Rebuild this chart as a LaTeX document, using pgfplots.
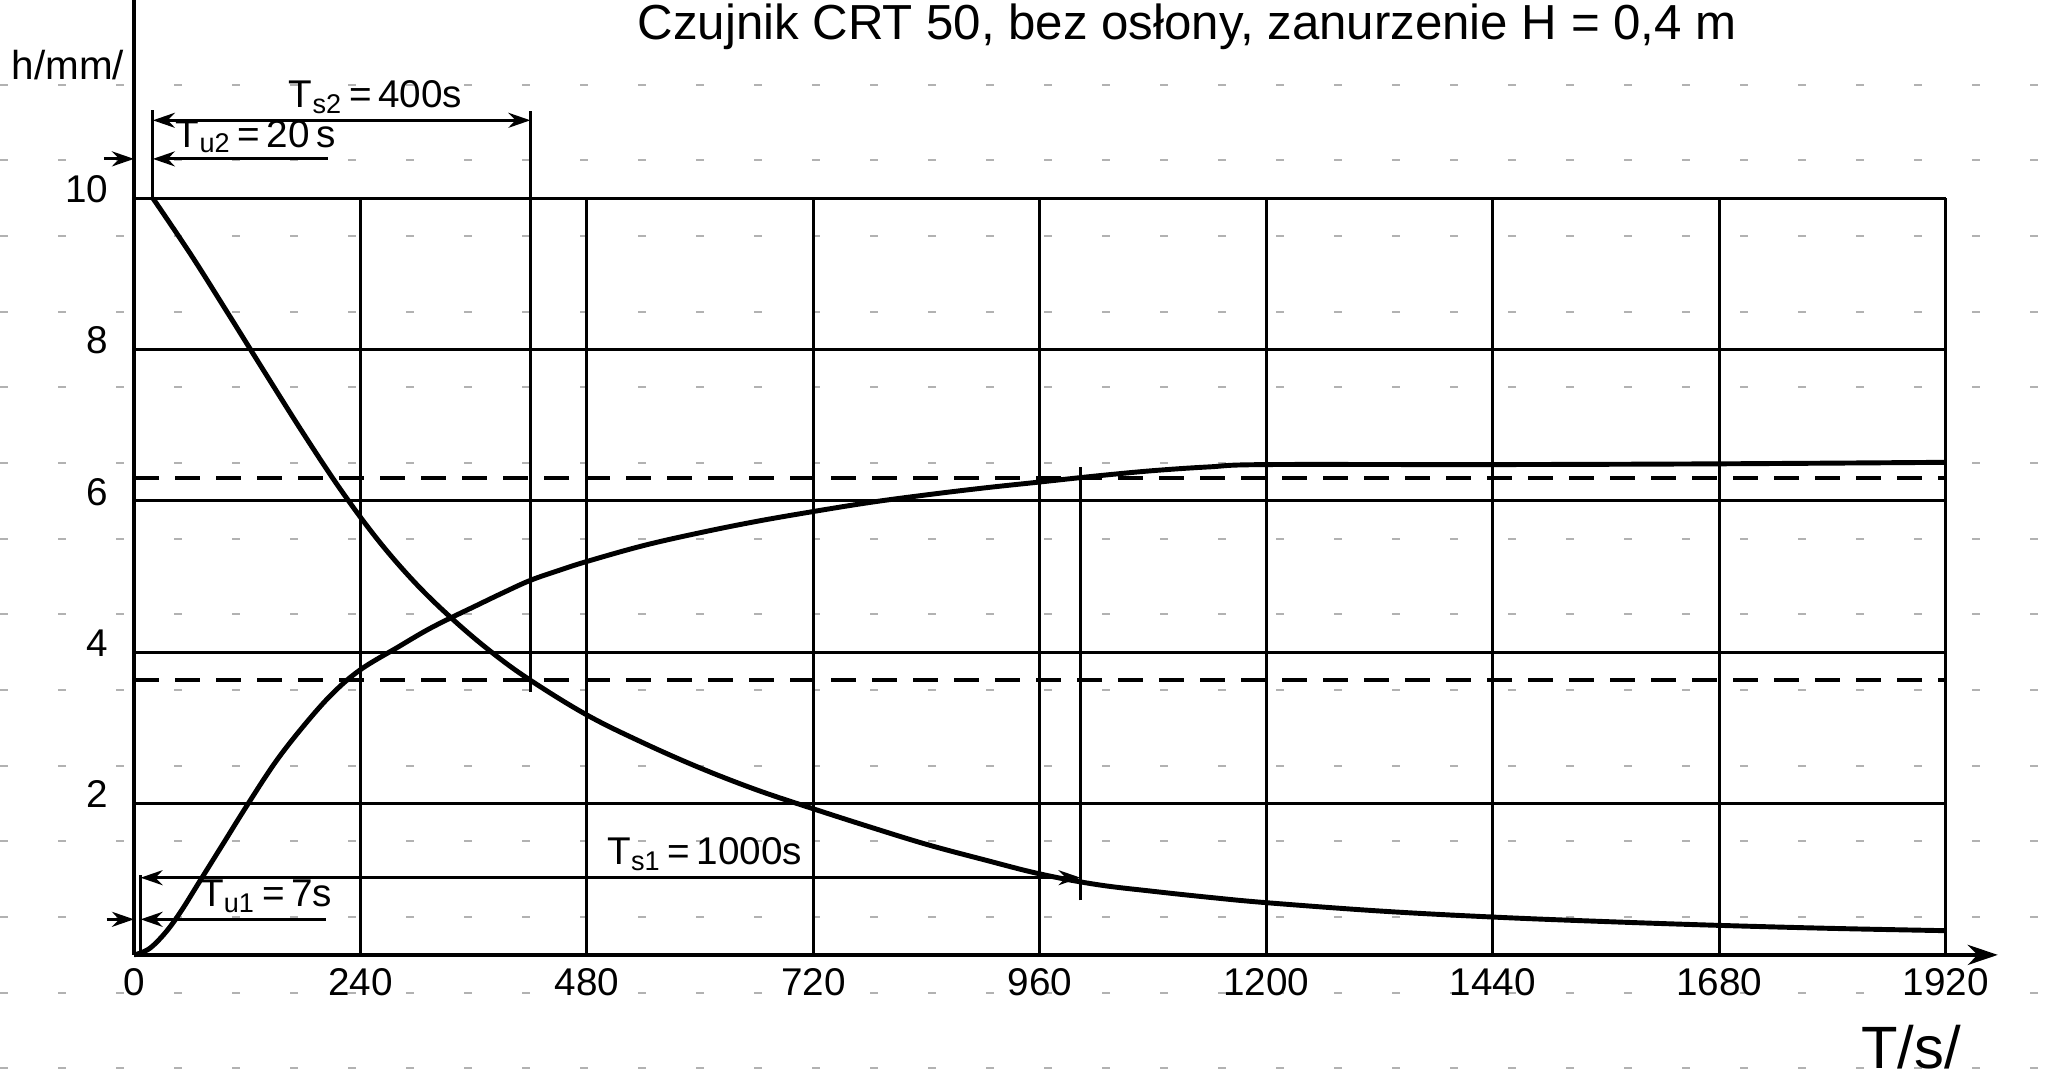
\documentclass[border=0pt]{standalone}
\usepackage{pgfplots}
\pgfplotsset{compat=1.18}
\usepackage{fontspec}
\setmainfont{Liberation Sans}
\usetikzlibrary{arrows.meta}
\begin{document}
\begin{tikzpicture}
\begin{axis}[width=20.45cm,height=10.82cm,scale only axis,
  xmin=-142,xmax=2025,ymin=-1.68,ymax=12.62,axis lines=none,clip=false]
% notebook paper lines
\pgfplotsinvokeforeach{-1.5,-0.5,0.5,1.5,2.5,3.5,4.5,5.5,6.5,7.5,8.5,9.5,10.5,11.5}{
  \draw[black!30, line width=0.6pt, dash pattern=on 0.8mm off 5mm] (axis cs:-142,#1) -- (axis cs:2025,#1);
}
% grid
\pgfplotsinvokeforeach{2,4,6,8,10}{
  \draw[line width=0.85pt] (axis cs:0,#1) -- (axis cs:1920,#1);
}
\pgfplotsinvokeforeach{240,480,720,960,1200,1440,1680,1920}{
  \draw[line width=0.85pt] (axis cs:#1,0) -- (axis cs:#1,10);
}
% axes
\draw[line width=1.3pt] (axis cs:0,12.62) -- (axis cs:0,0);
\draw[line width=1.3pt,-{Stealth[length=3mm,width=2mm]}] (axis cs:0,0) -- (axis cs:1975,0);
% tick labels
\pgfplotsinvokeforeach{0,240,480,720,960,1200,1440,1680,1920}{
  \node[font=\fontsize{11}{13}\selectfont] at (axis cs:#1,-0.36) {#1};
}
\pgfplotsinvokeforeach{2,4,6,8,10}{
  \node[anchor=east,font=\fontsize{11}{13}\selectfont] at (axis cs:-14,#1+0.12) {#1};
}
% axis labels
\node[font=\fontsize{11.5}{13}\selectfont] at (axis cs:-70,11.76) {h/mm/};
\node[font=\fontsize{17}{19}\selectfont] at (axis cs:1883,-1.22) {T/s/};
% title
\node[anchor=north,inner sep=0pt,font=\fontsize{14}{16}\selectfont] at (axis cs:1116,12.58) {Czujnik CRT 50, bez osłony, zanurzenie H = 0,4 m};

% dashed reference lines
\addplot[line width=1.1pt, dash pattern=on 2.5mm off 1.6mm] coordinates {(0,6.30) (1920,6.30)};
\addplot[line width=1.1pt, dash pattern=on 2.5mm off 1.6mm] coordinates {(0,3.63) (1920,3.63)};

% rising curve
\addplot[line width=1.4pt, smooth, tension=0.6] coordinates {
(0,0) (10,0.04) (20,0.12) (35,0.32) (50,0.58) (70,0.98) (95,1.48) (120,1.98) (150,2.55)
(180,3.03) (210,3.45) (240,3.77) (280,4.07) (310,4.29) (335,4.45) (360,4.6) (390,4.78)
(420,4.95) (450,5.08) (480,5.2) (540,5.41) (600,5.58) (660,5.73) (720,5.86) (780,5.98)
(840,6.08) (900,6.17) (960,6.25) (1020,6.33) (1080,6.40) (1140,6.45) (1200,6.48)
(1440,6.48) (1680,6.49) (1920,6.51)};

% falling curve
\addplot[line width=1.4pt, smooth, tension=0.6] coordinates {
(20,10) (60,9.26) (100,8.47) (140,7.67) (180,6.88) (220,6.13) (260,5.46) (300,4.89)
(340,4.41) (380,3.99) (420,3.63) (480,3.17) (540,2.8) (600,2.47) (660,2.18) (720,1.93)
(780,1.69) (840,1.46) (900,1.26) (960,1.07) (1020,0.93) (1080,0.84) (1140,0.76)
(1200,0.69) (1320,0.58) (1440,0.50) (1560,0.44) (1680,0.39) (1800,0.35) (1920,0.32)};

% annotations
\tikzset{arr/.style={line width=0.85pt}}
% Tu2
\draw[arr] (axis cs:20,10) -- (axis cs:20,11.17);
\draw[arr,-{Stealth[length=2.2mm,width=1.5mm]}] (axis cs:-32,10.52) -- (axis cs:0,10.52);
\draw[arr,{Stealth[length=2.2mm,width=1.5mm]}-] (axis cs:20,10.52) -- (axis cs:206,10.52);
\node[anchor=south west,inner sep=1pt,font=\fontsize{11}{13}\selectfont] at (axis cs:40,10.54) {T\textsubscript{u2}\,=\,20\,s};
% Ts2
\draw[arr] (axis cs:420,3.48) -- (axis cs:420,11.15);
\draw[arr,{Stealth[length=2.2mm,width=1.5mm]}-{Stealth[length=2.2mm,width=1.5mm]}] (axis cs:20,11.03) -- (axis cs:420,11.03);
\node[anchor=south,inner sep=1pt,font=\fontsize{11}{13}\selectfont] at (axis cs:256,11.06) {T\textsubscript{s2}\,=\,400s};
% Ts1
\draw[arr] (axis cs:7,0) -- (axis cs:7,1.05);
\draw[arr] (axis cs:1003,0.72) -- (axis cs:1003,6.45);
\draw[arr,{Stealth[length=2.2mm,width=1.5mm]}-{Stealth[length=2.2mm,width=1.5mm]}] (axis cs:7,1.02) -- (axis cs:1003,1.02);
\node[anchor=south,inner sep=1pt,font=\fontsize{11}{13}\selectfont] at (axis cs:605,1.06) {T\textsubscript{s1}\,=\,1000s};
% Tu1
\draw[arr,-{Stealth[length=2.2mm,width=1.5mm]}] (axis cs:-29,0.47) -- (axis cs:0,0.47);
\draw[arr,{Stealth[length=2.2mm,width=1.5mm]}-] (axis cs:7,0.47) -- (axis cs:203,0.47);
\node[anchor=south,inner sep=1pt,font=\fontsize{11}{13}\selectfont] at (axis cs:140,0.50) {T\textsubscript{u1}\,=\,7s};
\end{axis}
\pgfresetboundingbox
\useasboundingbox (current axis.south west) rectangle (current axis.north east);
\end{tikzpicture}
\end{document}
